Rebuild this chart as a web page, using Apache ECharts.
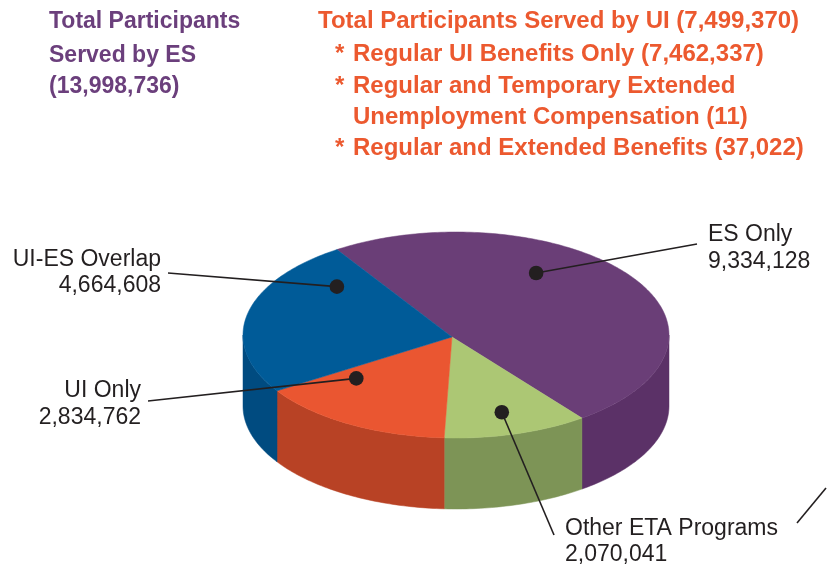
<!DOCTYPE html>
<html>
<head>
<meta charset="utf-8">
<script src="https://cdn.jsdelivr.net/npm/echarts@6/dist/echarts.min.js"></script>
<style>
  html, body { margin: 0; padding: 0; background: #fff; }
  #main { width: 831px; height: 569px; }
</style>
</head>
<body>
<div id="main"></div>
<script>
// data
const categories = ['ES Only', 'Other ETA Programs', 'UI Only', 'UI-ES Overlap'];
const participants = [9334128, 2070041, 2834762, 4664608];
const valueLabels = ['9,334,128', '2,070,041', '2,834,762', '4,664,608'];

const esTitle = ['Total Participants', 'Served by ES', '(13,998,736)'];
const uiTitle = ['Total Participants Served by UI (7,499,370)'];
const uiItems = [
  ['Regular UI Benefits Only (7,462,337)'],
  ['Regular and Temporary Extended', 'Unemployment Compensation (11)'],
  ['Regular and Extended Benefits (37,022)']
];

// colours
const topColors = ['#6a3e77', '#acc774', '#ea5631', '#005b98'];
const sideColors = ['#5b3167', '#7d9456', '#b84225', '#004b80'];
const esColor = '#6b3f7c';
const uiColor = '#ec592f';
const ink = '#231f20';

// pie geometry (ellipse of the top face)
const CX = 456, CY = 335, RX = 213, RY = 103, DEPTH = 71;
const APEX = [452, 337];
const START = 236; // degrees, clockwise on screen

// where the dots, leader lines and labels sit for each slice
const labelLayout = [
  { dotT: 302, dotF: 0.71, lineEnd: [697, 244], x: 708, base: [243, 270], align: 'left' },
  { dotT: 74, dotF: 0.78, lineEnd: [554, 535], x: 565, base: [537, 563], align: 'left' },
  { dotT: 138, dotF: 0.63, lineEnd: [148, 401], x: 141, base: [399, 426], align: 'right' },
  { dotT: 220, dotF: 0.73, lineEnd: [168, 273], x: 161, base: [268, 294], align: 'right' }
];

const total = participants.reduce((a, b) => a + b, 0);
let acc = START;
const slices = participants.map((v, i) => {
  const a0 = acc;
  acc += v / total * 360;
  return [v, a0, acc, i];
});

const rad = d => d * Math.PI / 180;
const pt = (t, f, dy) => [CX + RX * f * Math.cos(t), CY + RY * f * Math.sin(t) + (dy || 0)];

function arc(a0, a1, dy) {
  const pts = [];
  const n = Math.max(6, Math.ceil(Math.abs(a1 - a0)));
  for (let k = 0; k <= n; k++) pts.push(pt(rad(a0 + (a1 - a0) * k / n), 1, dy));
  return pts;
}

function renderSlice(params, api) {
  const i = api.value(3);
  const a0 = api.value(1), a1 = api.value(2);
  const children = [];

  // front wall, only the part facing us
  [[0, 180], [360, 540]].forEach(r => {
    const s = Math.max(a0, r[0]), e = Math.min(a1, r[1]);
    if (e > s) {
      const upper = arc(s, e, 0);
      const lower = arc(e, s, DEPTH);
      children.push({
        type: 'polygon',
        shape: { points: upper.concat(lower) },
        style: { fill: sideColors[i], stroke: sideColors[i], lineWidth: 0.5 }
      });
    }
  });

  // top face
  children.push({
    type: 'polygon',
    shape: { points: [APEX].concat(arc(a0, a1, 0)) },
    style: { fill: topColors[i], stroke: topColors[i], lineWidth: 0.5 }
  });

  // dot, leader line and label stay above every slice
  const lay = labelLayout[i];
  const dot = pt(rad(lay.dotT), lay.dotF);
  children.push({
    type: 'line', z2: 100,
    shape: { x1: dot[0], y1: dot[1], x2: lay.lineEnd[0], y2: lay.lineEnd[1] },
    style: { stroke: ink, lineWidth: 1.6 }
  });
  children.push({
    type: 'circle', z2: 101,
    shape: { cx: dot[0], cy: dot[1], r: 7.3 },
    style: { fill: ink }
  });
  [categories[i], valueLabels[i]].forEach((txt, k) => {
    children.push({
      type: 'text', z2: 102,
      style: {
        text: txt, x: lay.x, y: lay.base[k] - 8.3,
        align: lay.align, verticalAlign: 'middle',
        font: '23px "Liberation Sans", Arial, sans-serif', fill: ink
      }
    });
  });
  return { type: 'group', children: children };
}

function titleText(txt, x, base, color, size) {
  return {
    type: 'text',
    style: {
      text: txt, x: x, y: base - size * 0.3,
      align: 'left', verticalAlign: 'middle',
      font: 'bold ' + size + 'px "Liberation Sans", Arial, sans-serif', fill: color
    }
  };
}

const graphics = [];
const esBase = [28.5, 63, 93.5];
esTitle.forEach((t, k) => graphics.push(titleText(t, 49, esBase[k], esColor, 23)));
graphics.push(titleText(uiTitle[0], 318, 28.5, uiColor, 24));
const uiBase = [[62], [93.5, 124.5], [156]];
uiItems.forEach((lines, k) => {
  graphics.push(titleText('*', 335, uiBase[k][0], uiColor, 24));
  lines.forEach((t, j) => graphics.push(titleText(t, 353, uiBase[k][j], uiColor, 24)));
});
// stray stroke at the lower right edge of the original page
graphics.push({
  type: 'line',
  shape: { x1: 797, y1: 523, x2: 826, y2: 488 },
  style: { stroke: ink, lineWidth: 1.6 }
});

const chart = echarts.init(document.getElementById('main'), null, { renderer: 'canvas' });
chart.setOption({
  animation: false,
  backgroundColor: '#fff',
  graphic: graphics,
  series: [{
    type: 'custom',
    coordinateSystem: 'none',
    renderItem: renderSlice,
    data: slices,
    silent: true
  }]
});
</script>
</body>
</html>
